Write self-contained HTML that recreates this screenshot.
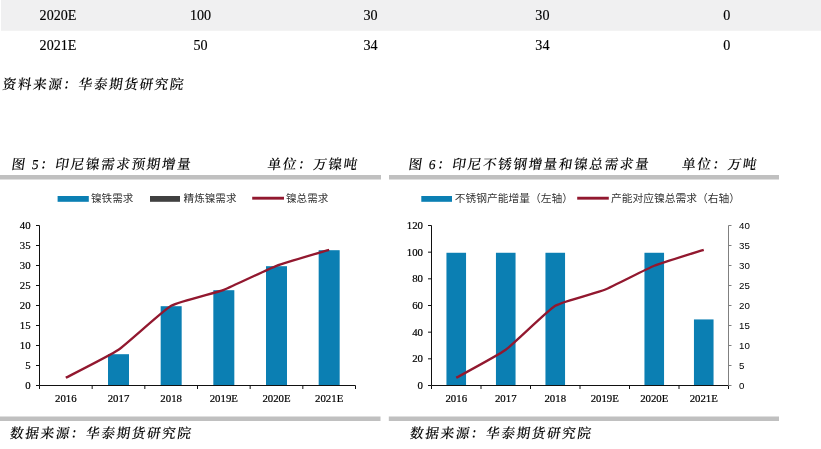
<!DOCTYPE html>
<html lang="zh-CN"><head><meta charset="utf-8"><title>chart</title>
<style>html,body{margin:0;padding:0;background:#fff;}body{width:821px;height:449px;overflow:hidden}svg{display:block}</style>
</head><body>
<svg width="821" height="449" viewBox="0 0 821 449">
<rect x="0" y="0" width="821" height="449" fill="#ffffff"/>
<rect x="1" y="0" width="820" height="30.8" fill="#f0f0f1"/>
<text x="58" y="19.9" font-family='"Liberation Serif", "Noto Serif CJK SC", serif' font-size="14.1" text-anchor="middle" fill="#000" stroke="#000" stroke-width="0.15">2020E</text>
<text x="200.5" y="19.9" font-family='"Liberation Serif", "Noto Serif CJK SC", serif' font-size="14.1" text-anchor="middle" fill="#000" stroke="#000" stroke-width="0.15">100</text>
<text x="370.5" y="19.9" font-family='"Liberation Serif", "Noto Serif CJK SC", serif' font-size="14.1" text-anchor="middle" fill="#000" stroke="#000" stroke-width="0.15">30</text>
<text x="542.4" y="19.9" font-family='"Liberation Serif", "Noto Serif CJK SC", serif' font-size="14.1" text-anchor="middle" fill="#000" stroke="#000" stroke-width="0.15">30</text>
<text x="726.7" y="19.9" font-family='"Liberation Serif", "Noto Serif CJK SC", serif' font-size="14.1" text-anchor="middle" fill="#000" stroke="#000" stroke-width="0.15">0</text>
<text x="58" y="49.7" font-family='"Liberation Serif", "Noto Serif CJK SC", serif' font-size="14.1" text-anchor="middle" fill="#000" stroke="#000" stroke-width="0.15">2021E</text>
<text x="200.5" y="49.7" font-family='"Liberation Serif", "Noto Serif CJK SC", serif' font-size="14.1" text-anchor="middle" fill="#000" stroke="#000" stroke-width="0.15">50</text>
<text x="370.5" y="49.7" font-family='"Liberation Serif", "Noto Serif CJK SC", serif' font-size="14.1" text-anchor="middle" fill="#000" stroke="#000" stroke-width="0.15">34</text>
<text x="542.4" y="49.7" font-family='"Liberation Serif", "Noto Serif CJK SC", serif' font-size="14.1" text-anchor="middle" fill="#000" stroke="#000" stroke-width="0.15">34</text>
<text x="726.7" y="49.7" font-family='"Liberation Serif", "Noto Serif CJK SC", serif' font-size="14.1" text-anchor="middle" fill="#000" stroke="#000" stroke-width="0.15">0</text>
<g transform="translate(2,89) skewX(-8)"><text x="0" y="0" font-family='"Liberation Serif", "Noto Serif CJK SC", serif' font-size="13.6" fill="#000" font-weight="500" letter-spacing="1.62" stroke="#000" stroke-width="0.1">资料来源：华泰期货研究院</text></g>
<g transform="translate(11,169) skewX(-8)"><text x="0" y="0" font-family='"Liberation Serif", "Noto Serif CJK SC", serif' font-size="13.6" fill="#000" font-weight="500" letter-spacing="1.62" stroke="#000" stroke-width="0.1">图 <tspan font-weight="400">5</tspan>：印尼镍需求预期增量</text></g>
<g transform="translate(267,169) skewX(-8)"><text x="0" y="0" font-family='"Liberation Serif", "Noto Serif CJK SC", serif' font-size="13.6" fill="#000" font-weight="500" letter-spacing="1.62" stroke="#000" stroke-width="0.1">单位：万镍吨</text></g>
<g transform="translate(408,169) skewX(-8)"><text x="0" y="0" font-family='"Liberation Serif", "Noto Serif CJK SC", serif' font-size="13.6" fill="#000" font-weight="500" letter-spacing="1.62" stroke="#000" stroke-width="0.1">图 <tspan font-weight="400">6</tspan>：印尼不锈钢增量和镍总需求量</text></g>
<g transform="translate(681.5,169) skewX(-8)"><text x="0" y="0" font-family='"Liberation Serif", "Noto Serif CJK SC", serif' font-size="13.6" fill="#000" font-weight="500" letter-spacing="1.62" stroke="#000" stroke-width="0.1">单位：万吨</text></g>
<rect x="0" y="175" width="381" height="4.5" fill="#c0c0c0"/>
<rect x="389" y="175" width="390" height="4.5" fill="#c0c0c0"/>
<rect x="0" y="416.5" width="380.5" height="4.5" fill="#c0c0c0"/>
<rect x="388.8" y="416.5" width="390.2" height="4.5" fill="#c0c0c0"/>
<g transform="translate(9.5,438) skewX(-8)"><text x="0" y="0" font-family='"Liberation Serif", "Noto Serif CJK SC", serif' font-size="13.6" fill="#000" font-weight="500" letter-spacing="1.62" stroke="#000" stroke-width="0.1">数据来源：华泰期货研究院</text></g>
<g transform="translate(409.5,438) skewX(-8)"><text x="0" y="0" font-family='"Liberation Serif", "Noto Serif CJK SC", serif' font-size="13.6" fill="#000" font-weight="500" letter-spacing="1.62" stroke="#000" stroke-width="0.1">数据来源：华泰期货研究院</text></g>
<rect x="57.6" y="196" width="31.2" height="5.8" fill="#0b7fb3"/>
<text x="91" y="201.9" font-family='"Liberation Sans", "Noto Sans CJK SC", sans-serif' font-size="10.6" text-anchor="start" fill="#333" >镍铁需求</text>
<rect x="150" y="196" width="30" height="5.8" fill="#404040"/>
<text x="183.6" y="201.9" font-family='"Liberation Sans", "Noto Sans CJK SC", sans-serif' font-size="10.6" text-anchor="start" fill="#333" >精炼镍需求</text>
<line x1="252.2" y1="198.2" x2="284" y2="198.2" stroke="#92182f" stroke-width="2.9"/>
<text x="286" y="201.9" font-family='"Liberation Sans", "Noto Sans CJK SC", sans-serif' font-size="10.6" text-anchor="start" fill="#333" >镍总需求</text>
<rect x="421.3" y="196" width="30.7" height="5.8" fill="#0b7fb3"/>
<text x="454.8" y="201.9" font-family='"Liberation Sans", "Noto Sans CJK SC", sans-serif' font-size="10.75" text-anchor="start" fill="#333" >不锈钢产能增量（左轴）</text>
<line x1="577.2" y1="198.2" x2="608.8" y2="198.2" stroke="#92182f" stroke-width="2.9"/>
<text x="611" y="201.9" font-family='"Liberation Sans", "Noto Sans CJK SC", sans-serif' font-size="10.75" text-anchor="start" fill="#333" >产能对应镍总需求（右轴）</text>
<path d="M39.5 225.5V385.5H355.5" fill="none" stroke="#111" stroke-width="1"/>
<line x1="36.0" y1="385.5" x2="39.5" y2="385.5" stroke="#111" stroke-width="1"/>
<text x="30.6" y="389.1" font-family='"Liberation Serif", "Noto Serif CJK SC", serif' font-size="10.8" text-anchor="end" fill="#000" stroke="#000" stroke-width="0.2">0</text>
<line x1="36.0" y1="365.5" x2="39.5" y2="365.5" stroke="#111" stroke-width="1"/>
<text x="30.6" y="369.1" font-family='"Liberation Serif", "Noto Serif CJK SC", serif' font-size="10.8" text-anchor="end" fill="#000" stroke="#000" stroke-width="0.2">5</text>
<line x1="36.0" y1="345.5" x2="39.5" y2="345.5" stroke="#111" stroke-width="1"/>
<text x="30.6" y="349.1" font-family='"Liberation Serif", "Noto Serif CJK SC", serif' font-size="10.8" text-anchor="end" fill="#000" stroke="#000" stroke-width="0.2">10</text>
<line x1="36.0" y1="325.5" x2="39.5" y2="325.5" stroke="#111" stroke-width="1"/>
<text x="30.6" y="329.1" font-family='"Liberation Serif", "Noto Serif CJK SC", serif' font-size="10.8" text-anchor="end" fill="#000" stroke="#000" stroke-width="0.2">15</text>
<line x1="36.0" y1="305.5" x2="39.5" y2="305.5" stroke="#111" stroke-width="1"/>
<text x="30.6" y="309.1" font-family='"Liberation Serif", "Noto Serif CJK SC", serif' font-size="10.8" text-anchor="end" fill="#000" stroke="#000" stroke-width="0.2">20</text>
<line x1="36.0" y1="285.5" x2="39.5" y2="285.5" stroke="#111" stroke-width="1"/>
<text x="30.6" y="289.1" font-family='"Liberation Serif", "Noto Serif CJK SC", serif' font-size="10.8" text-anchor="end" fill="#000" stroke="#000" stroke-width="0.2">25</text>
<line x1="36.0" y1="265.5" x2="39.5" y2="265.5" stroke="#111" stroke-width="1"/>
<text x="30.6" y="269.1" font-family='"Liberation Serif", "Noto Serif CJK SC", serif' font-size="10.8" text-anchor="end" fill="#000" stroke="#000" stroke-width="0.2">30</text>
<line x1="36.0" y1="245.5" x2="39.5" y2="245.5" stroke="#111" stroke-width="1"/>
<text x="30.6" y="249.1" font-family='"Liberation Serif", "Noto Serif CJK SC", serif' font-size="10.8" text-anchor="end" fill="#000" stroke="#000" stroke-width="0.2">35</text>
<line x1="36.0" y1="225.5" x2="39.5" y2="225.5" stroke="#111" stroke-width="1"/>
<text x="30.6" y="229.1" font-family='"Liberation Serif", "Noto Serif CJK SC", serif' font-size="10.8" text-anchor="end" fill="#000" stroke="#000" stroke-width="0.2">40</text>
<line x1="39.50" y1="385.5" x2="39.50" y2="389.0" stroke="#111" stroke-width="1"/>
<line x1="92.17" y1="385.5" x2="92.17" y2="389.0" stroke="#111" stroke-width="1"/>
<line x1="144.83" y1="385.5" x2="144.83" y2="389.0" stroke="#111" stroke-width="1"/>
<line x1="197.50" y1="385.5" x2="197.50" y2="389.0" stroke="#111" stroke-width="1"/>
<line x1="250.17" y1="385.5" x2="250.17" y2="389.0" stroke="#111" stroke-width="1"/>
<line x1="302.83" y1="385.5" x2="302.83" y2="389.0" stroke="#111" stroke-width="1"/>
<line x1="355.50" y1="385.5" x2="355.50" y2="389.0" stroke="#111" stroke-width="1"/>
<text x="65.83" y="402.3" font-family='"Liberation Serif", "Noto Serif CJK SC", serif' font-size="10.8" text-anchor="middle" fill="#000" stroke="#000" stroke-width="0.2">2016</text>
<text x="118.50" y="402.3" font-family='"Liberation Serif", "Noto Serif CJK SC", serif' font-size="10.8" text-anchor="middle" fill="#000" stroke="#000" stroke-width="0.2">2017</text>
<rect x="108.00" y="354.2" width="21" height="30.8" fill="#0b7fb3"/>
<text x="171.17" y="402.3" font-family='"Liberation Serif", "Noto Serif CJK SC", serif' font-size="10.8" text-anchor="middle" fill="#000" stroke="#000" stroke-width="0.2">2018</text>
<rect x="160.67" y="306.2" width="21" height="78.8" fill="#0b7fb3"/>
<text x="223.83" y="402.3" font-family='"Liberation Serif", "Noto Serif CJK SC", serif' font-size="10.8" text-anchor="middle" fill="#000" stroke="#000" stroke-width="0.2">2019E</text>
<rect x="213.33" y="290.2" width="21" height="94.8" fill="#0b7fb3"/>
<text x="276.50" y="402.3" font-family='"Liberation Serif", "Noto Serif CJK SC", serif' font-size="10.8" text-anchor="middle" fill="#000" stroke="#000" stroke-width="0.2">2020E</text>
<rect x="266.00" y="266.2" width="21" height="118.8" fill="#0b7fb3"/>
<text x="329.17" y="402.3" font-family='"Liberation Serif", "Noto Serif CJK SC", serif' font-size="10.8" text-anchor="middle" fill="#000" stroke="#000" stroke-width="0.2">2021E</text>
<rect x="318.67" y="250.2" width="21" height="134.8" fill="#0b7fb3"/>
<path d="M65.83 377.80C69.78 375.70 110.60 355.20 118.50 349.80C126.40 344.40 163.27 310.30 171.17 305.80C179.07 301.30 215.93 292.80 223.83 289.80C231.73 286.80 268.60 268.80 276.50 265.80C284.40 262.80 325.22 251.00 329.17 249.80" fill="none" stroke="#92182f" stroke-width="2.3" stroke-linejoin="round" stroke-linecap="butt"/>
<path d="M431.5 225.5V385.5H728.5" fill="none" stroke="#111" stroke-width="1"/>
<line x1="428.0" y1="385.50" x2="431.5" y2="385.50" stroke="#111" stroke-width="1"/>
<text x="423" y="389.10" font-family='"Liberation Serif", "Noto Serif CJK SC", serif' font-size="10.8" text-anchor="end" fill="#000" stroke="#000" stroke-width="0.2">0</text>
<line x1="428.0" y1="358.83" x2="431.5" y2="358.83" stroke="#111" stroke-width="1"/>
<text x="423" y="362.43" font-family='"Liberation Serif", "Noto Serif CJK SC", serif' font-size="10.8" text-anchor="end" fill="#000" stroke="#000" stroke-width="0.2">20</text>
<line x1="428.0" y1="332.17" x2="431.5" y2="332.17" stroke="#111" stroke-width="1"/>
<text x="423" y="335.77" font-family='"Liberation Serif", "Noto Serif CJK SC", serif' font-size="10.8" text-anchor="end" fill="#000" stroke="#000" stroke-width="0.2">40</text>
<line x1="428.0" y1="305.50" x2="431.5" y2="305.50" stroke="#111" stroke-width="1"/>
<text x="423" y="309.10" font-family='"Liberation Serif", "Noto Serif CJK SC", serif' font-size="10.8" text-anchor="end" fill="#000" stroke="#000" stroke-width="0.2">60</text>
<line x1="428.0" y1="278.83" x2="431.5" y2="278.83" stroke="#111" stroke-width="1"/>
<text x="423" y="282.43" font-family='"Liberation Serif", "Noto Serif CJK SC", serif' font-size="10.8" text-anchor="end" fill="#000" stroke="#000" stroke-width="0.2">80</text>
<line x1="428.0" y1="252.17" x2="431.5" y2="252.17" stroke="#111" stroke-width="1"/>
<text x="423" y="255.77" font-family='"Liberation Serif", "Noto Serif CJK SC", serif' font-size="10.8" text-anchor="end" fill="#000" stroke="#000" stroke-width="0.2">100</text>
<line x1="428.0" y1="225.50" x2="431.5" y2="225.50" stroke="#111" stroke-width="1"/>
<text x="423" y="229.10" font-family='"Liberation Serif", "Noto Serif CJK SC", serif' font-size="10.8" text-anchor="end" fill="#000" stroke="#000" stroke-width="0.2">120</text>
<line x1="431.50" y1="385.5" x2="431.50" y2="389.0" stroke="#111" stroke-width="1"/>
<line x1="481.00" y1="385.5" x2="481.00" y2="389.0" stroke="#111" stroke-width="1"/>
<line x1="530.50" y1="385.5" x2="530.50" y2="389.0" stroke="#111" stroke-width="1"/>
<line x1="580.00" y1="385.5" x2="580.00" y2="389.0" stroke="#111" stroke-width="1"/>
<line x1="629.50" y1="385.5" x2="629.50" y2="389.0" stroke="#111" stroke-width="1"/>
<line x1="679.00" y1="385.5" x2="679.00" y2="389.0" stroke="#111" stroke-width="1"/>
<line x1="728.50" y1="385.5" x2="728.50" y2="389.0" stroke="#111" stroke-width="1"/>
<text x="456.25" y="402.3" font-family='"Liberation Serif", "Noto Serif CJK SC", serif' font-size="10.8" text-anchor="middle" fill="#000" stroke="#000" stroke-width="0.2">2016</text>
<rect x="446.45" y="252.77" width="19.6" height="132.23" fill="#0b7fb3"/>
<text x="505.75" y="402.3" font-family='"Liberation Serif", "Noto Serif CJK SC", serif' font-size="10.8" text-anchor="middle" fill="#000" stroke="#000" stroke-width="0.2">2017</text>
<rect x="495.95" y="252.77" width="19.6" height="132.23" fill="#0b7fb3"/>
<text x="555.25" y="402.3" font-family='"Liberation Serif", "Noto Serif CJK SC", serif' font-size="10.8" text-anchor="middle" fill="#000" stroke="#000" stroke-width="0.2">2018</text>
<rect x="545.45" y="252.77" width="19.6" height="132.23" fill="#0b7fb3"/>
<text x="604.75" y="402.3" font-family='"Liberation Serif", "Noto Serif CJK SC", serif' font-size="10.8" text-anchor="middle" fill="#000" stroke="#000" stroke-width="0.2">2019E</text>
<text x="654.25" y="402.3" font-family='"Liberation Serif", "Noto Serif CJK SC", serif' font-size="10.8" text-anchor="middle" fill="#000" stroke="#000" stroke-width="0.2">2020E</text>
<rect x="644.45" y="252.77" width="19.6" height="132.23" fill="#0b7fb3"/>
<text x="703.75" y="402.3" font-family='"Liberation Serif", "Noto Serif CJK SC", serif' font-size="10.8" text-anchor="middle" fill="#000" stroke="#000" stroke-width="0.2">2021E</text>
<rect x="693.95" y="319.43" width="19.6" height="65.57" fill="#0b7fb3"/>
<line x1="728.5" y1="225.5" x2="728.5" y2="385.5" stroke="#808080" stroke-width="1"/>
<line x1="728.5" y1="385.5" x2="731.5" y2="385.5" stroke="#808080" stroke-width="1"/>
<text x="739" y="388.6" font-family='"Liberation Sans", "Noto Sans CJK SC", sans-serif' font-size="9.7" text-anchor="start" fill="#000" >0</text>
<line x1="728.5" y1="365.5" x2="731.5" y2="365.5" stroke="#808080" stroke-width="1"/>
<text x="739" y="368.6" font-family='"Liberation Sans", "Noto Sans CJK SC", sans-serif' font-size="9.7" text-anchor="start" fill="#000" >5</text>
<line x1="728.5" y1="345.5" x2="731.5" y2="345.5" stroke="#808080" stroke-width="1"/>
<text x="739" y="348.6" font-family='"Liberation Sans", "Noto Sans CJK SC", sans-serif' font-size="9.7" text-anchor="start" fill="#000" >10</text>
<line x1="728.5" y1="325.5" x2="731.5" y2="325.5" stroke="#808080" stroke-width="1"/>
<text x="739" y="328.6" font-family='"Liberation Sans", "Noto Sans CJK SC", sans-serif' font-size="9.7" text-anchor="start" fill="#000" >15</text>
<line x1="728.5" y1="305.5" x2="731.5" y2="305.5" stroke="#808080" stroke-width="1"/>
<text x="739" y="308.6" font-family='"Liberation Sans", "Noto Sans CJK SC", sans-serif' font-size="9.7" text-anchor="start" fill="#000" >20</text>
<line x1="728.5" y1="285.5" x2="731.5" y2="285.5" stroke="#808080" stroke-width="1"/>
<text x="739" y="288.6" font-family='"Liberation Sans", "Noto Sans CJK SC", sans-serif' font-size="9.7" text-anchor="start" fill="#000" >25</text>
<line x1="728.5" y1="265.5" x2="731.5" y2="265.5" stroke="#808080" stroke-width="1"/>
<text x="739" y="268.6" font-family='"Liberation Sans", "Noto Sans CJK SC", sans-serif' font-size="9.7" text-anchor="start" fill="#000" >30</text>
<line x1="728.5" y1="245.5" x2="731.5" y2="245.5" stroke="#808080" stroke-width="1"/>
<text x="739" y="248.6" font-family='"Liberation Sans", "Noto Sans CJK SC", sans-serif' font-size="9.7" text-anchor="start" fill="#000" >35</text>
<line x1="728.5" y1="225.5" x2="731.5" y2="225.5" stroke="#808080" stroke-width="1"/>
<text x="739" y="228.6" font-family='"Liberation Sans", "Noto Sans CJK SC", sans-serif' font-size="9.7" text-anchor="start" fill="#000" >40</text>
<path d="M456.25 377.80C459.96 375.70 498.32 355.20 505.75 349.80C513.17 344.40 547.83 310.30 555.25 305.80C562.67 301.30 597.33 292.80 604.75 289.80C612.17 286.80 646.83 268.80 654.25 265.80C661.67 262.80 700.04 251.00 703.75 249.80" fill="none" stroke="#92182f" stroke-width="2.3" stroke-linejoin="round" stroke-linecap="butt"/>
</svg>
</body></html>
